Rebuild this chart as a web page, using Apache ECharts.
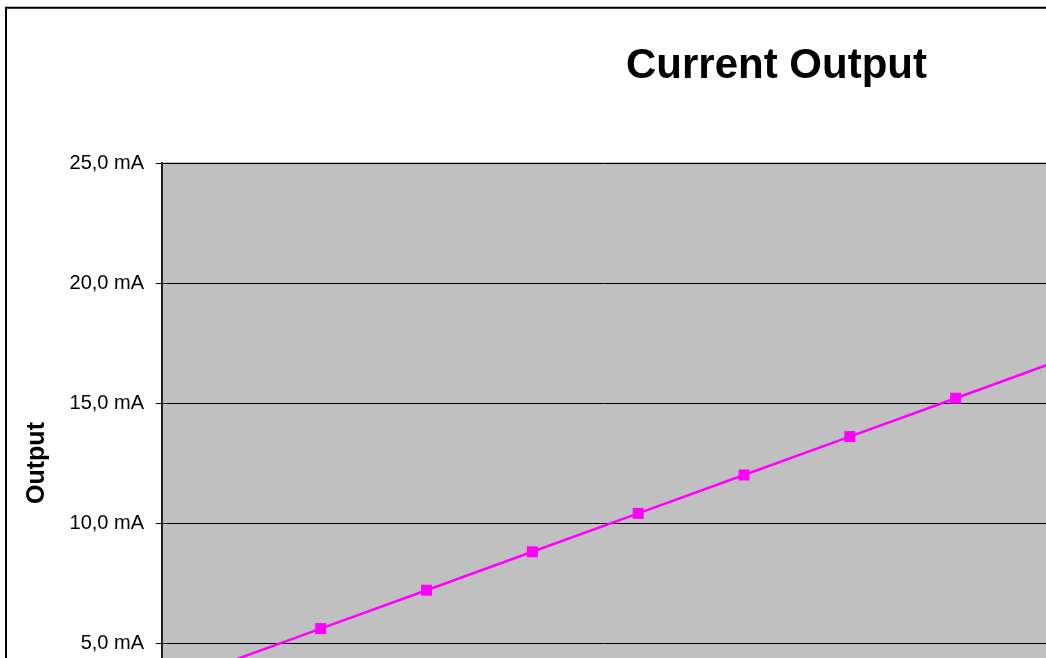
<!DOCTYPE html>
<html>
<head>
<meta charset="utf-8">
<title>Current Output</title>
<script src="https://cdn.jsdelivr.net/npm/echarts@6/dist/echarts.min.js"></script>
<style>
	html, body { margin: 0; padding: 0; background: #fff; }
	#chart { width: 1046px; height: 658px; }
</style>
</head>
<body>
<div id="chart"></div>
<script>
// input level (x categories) and resulting output current in mA
var inputLevels = ['0%', '10%', '20%', '30%', '40%', '50%', '60%', '70%', '80%', '90%', '100%']
var outputCurrent = [4.0, 5.6, 7.2, 8.8, 10.4, 12.0, 13.6, 15.2, 16.8, 18.4, 20.0]
var yTicks = [0, 5, 10, 15, 20, 25]

var chart = echarts.init(document.getElementById('chart'))

chart.setOption({
	backgroundColor: '#fff',
	animation: false,
	textStyle: {
		fontFamily: 'Liberation Sans, Arial, sans-serif'
	},
	title: {
		text: 'Current Output',
		left: 621,
		top: 40,
		textStyle: {
			fontSize: 42,
			fontWeight: 'bold',
			color: '#000'
		}
	},
	// outer chart frame (only left and top edges are in view)
	graphic: [{
		type: 'rect',
		shape: { x: 6, y: 7.7, width: 2000, height: 2000 },
		style: { fill: 'none', stroke: '#000', lineWidth: 2 },
		silent: true
	}],
	grid: {
		left: 162,
		top: 163,
		width: 1164, // plot runs past the right edge
		height: 600, // and past the bottom edge
		outerBoundsMode: 'none',
		containLabel: false,
		show: true,
		backgroundColor: '#C0C0C0',
		borderColor: '#808080',
		borderWidth: 1
	},
	xAxis: {
		type: 'category',
		data: inputLevels,
		boundaryGap: true,
		axisLine: { lineStyle: { color: '#000' } },
		axisTick: { show: false },
		axisLabel: { color: '#000', fontSize: 20 }
	},
	yAxis: {
		type: 'value',
		min: yTicks[0],
		max: yTicks[yTicks.length - 1],
		interval: 5,
		name: 'Output',
		nameLocation: 'middle',
		nameGap: 112,
		nameTextStyle: {
			fontSize: 25,
			fontWeight: 'bold',
			color: '#000'
		},
		axisLine: {
			show: true,
			lineStyle: { color: '#222', width: 2 }
		},
		axisTick: {
			show: true,
			inside: false,
			length: 6,
			lineStyle: { color: '#000' }
		},
		axisLabel: {
			color: '#000',
			fontSize: 20,
			margin: 18,
			formatter: function (v) {
				return v.toFixed(1).replace('.', ',') + ' mA'
			}
		},
		splitLine: {
			lineStyle: { color: '#000', width: 1 }
		}
	},
	series: [{
		type: 'line',
		data: outputCurrent,
		symbol: 'rect',
		symbolSize: 11,
		lineStyle: { color: '#FF00FF', width: 2.5 },
		itemStyle: { color: '#FF00FF' }
	}]
})
</script>
</body>
</html>
